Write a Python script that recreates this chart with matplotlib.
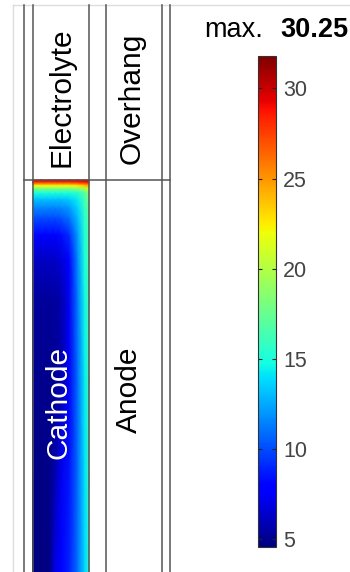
import numpy as np
import matplotlib
matplotlib.use('Agg')
import matplotlib.pyplot as plt
from matplotlib import colors

plt.rcParams['font.family'] = ['Liberation Sans', 'DejaVu Sans']

# field in the cathode: columns across the width (0 = left, 1 = right),
# rows measured down from the cathode/electrolyte interface (pixels of height)
col_frac = [0.0, 0.15, 0.3, 0.4, 0.5, 0.65, 0.8, 0.92, 1.0]
row_depth = [0, 2, 4, 6, 9, 13, 20, 28, 38, 55, 80, 120, 200, 300, 392]
field = [
    [30.2, 30.2, 30.2, 30.2, 30.2, 30.2, 30.2, 30.2, 30.2],
    [28.5, 28.5, 28.5, 28.5, 28.5, 28.5, 28.7, 29.0, 29.3],
    [25.5, 25.5, 25.5, 25.5, 25.5, 25.5, 26.0, 26.5, 27.0],
    [22.0, 22.0, 22.0, 22.0, 22.0, 22.0, 22.5, 23.5, 24.5],
    [18.0, 18.0, 18.0, 18.0, 18.0, 18.0, 18.5, 19.5, 21.0],
    [15.0, 15.0, 15.0, 15.0, 15.0, 15.0, 15.5, 17.0, 18.5],
    [13.0, 13.0, 13.0, 13.0, 13.0, 13.3, 14.3, 16.3, 17.8],
    [11.5, 11.5, 11.5, 11.5, 11.6, 12.1, 13.6, 15.8, 17.2],
    [10.0, 10.0, 10.0, 10.0, 10.2, 11.0, 13.0, 15.4, 17.0],
    [8.0, 8.0, 8.0, 8.0, 8.2, 9.2, 12.2, 15.0, 16.7],
    [6.2, 6.2, 6.2, 6.3, 6.6, 7.9, 11.6, 14.8, 16.5],
    [5.2, 5.2, 5.2, 5.3, 5.7, 7.3, 11.2, 14.5, 16.3],
    [4.9, 4.9, 4.9, 5.1, 5.6, 7.5, 10.9, 14.2, 16.0],
    [4.7, 4.7, 4.8, 5.8, 7.3, 8.5, 10.9, 13.8, 15.6],
    [4.6, 4.6, 4.7, 7.0, 7.9, 8.9, 11.0, 13.5, 15.2],
]
max_value = 30.25
cbar_ticks = [5, 10, 15, 20, 25, 30]
vmin, vmax = 4.55, 31.8

fig = plt.figure(figsize=(3.5, 5.72), dpi=100)
ax = fig.add_axes([0, 0, 1, 1])
ax.set_xlim(0, 350)
ax.set_ylim(572, 0)
ax.axis('off')

# cathode domain (pixel layout)
cx0, cx1, cy0 = 32.5, 89, 180
X, Y = np.meshgrid(cx0 + np.array(col_frac) * (cx1 - cx0), cy0 + np.array(row_depth))
norm = colors.Normalize(vmin=vmin, vmax=vmax)
mesh = ax.pcolormesh(X, Y, np.array(field), cmap='jet', norm=norm, shading='gouraud')

# light frame
ax.plot([13, 350], [5, 5], color='#dddddd', lw=1)
ax.plot([13, 13], [5, 572], color='#dddddd', lw=1)

# domain boundaries
for x in [24, 32.5, 89, 106, 162, 170]:
    ax.plot([x, x], [5, 572], color='#555555', lw=1.1)
ax.plot([24, 170], [180, 180], color='#555555', lw=1.1)

ax.text(61, 97, 'Electrolyte', rotation=90, ha='center', va='center', fontsize=21.5, color='black')
ax.text(132, 98, 'Overhang', rotation=90, ha='center', va='center', fontsize=21.5, color='black')
ax.text(129, 390, 'Anode', rotation=90, ha='center', va='center', fontsize=21.5, color='black')
ax.text(59, 402, 'Cathode', rotation=90, ha='center', va='center', fontsize=21.5, color='white')

ax.text(204, 37, 'max.', ha='left', va='baseline', fontsize=19.5, color='black')
ax.text(280, 37, f'{max_value:.2f}', ha='left', va='baseline', fontsize=19.5,
        fontweight='bold', color='black')

# colorbar
cax = fig.add_axes([258 / 350, 1 - 547 / 572, 18 / 350, 491 / 572])
cb = fig.colorbar(mesh, cax=cax, ticks=cbar_ticks)
cb.outline.set_edgecolor('#333333')
cb.outline.set_linewidth(0.8)
cax.tick_params(direction='in', left=True, right=True, length=3, width=0.8,
                labelsize=15.5, labelcolor='#444444', color='#222222', pad=5)

fig.savefig('out.png', dpi=100)
